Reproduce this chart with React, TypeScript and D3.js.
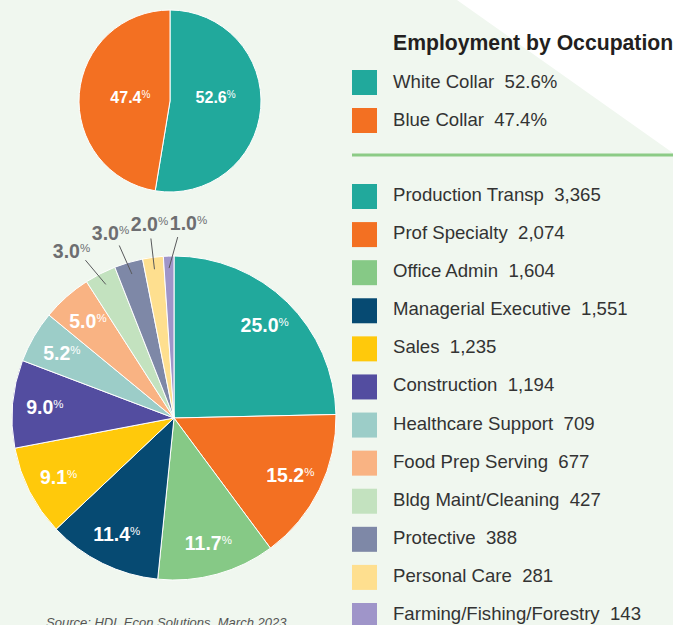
import React from "react";
import * as d3 from "d3";

// ---------- data ----------
const topCategories = ["White Collar", "Blue Collar"];
const topValues = [52.6, 47.4];
const topLabels = ["52.6", "47.4"];
const topColors = ["#21a99c", "#f37022"];

const occCategories = [
  "Production Transp",
  "Prof Specialty",
  "Office Admin",
  "Managerial Executive",
  "Sales",
  "Construction",
  "Healthcare Support",
  "Food Prep Serving",
  "Bldg Maint/Cleaning",
  "Protective",
  "Personal Care",
  "Farming/Fishing/Forestry",
];
const occValues = [3365, 2074, 1604, 1551, 1235, 1194, 709, 677, 427, 388, 281, 143];
const occLabels = ["25.0", "15.2", "11.7", "11.4", "9.1", "9.0", "5.2", "5.0", "3.0", "3.0", "2.0", "1.0"];
const occColors = [
  "#21a99c",
  "#f37022",
  "#86c986",
  "#064a72",
  "#ffc90b",
  "#534da0",
  "#9ccdc8",
  "#f9b383",
  "#c3e2bf",
  "#7e88a7",
  "#fedf8f",
  "#9f95c9",
];

const titleText = "Employment by Occupation";
const sourceText = "Source: HDL Econ Solutions, March 2023";

const W = 673;
const H = 625;
const FONT = "'Liberation Sans', Arial, Helvetica, sans-serif";

export default function App() {
  // top pie
  const tcx = 170, tcy = 101, tR = 91;
  const topPie = d3.pie<number>().sort(null).value((d) => d)(topValues);
  const topArc = d3.arc<d3.PieArcDatum<number>>().innerRadius(0).outerRadius(tR);
  const topLabelArc = d3.arc<d3.PieArcDatum<number>>().innerRadius(tR * 0.47).outerRadius(tR * 0.47);

  // bottom pie
  const bcx = 174, bcy = 418, bR = 162;
  const occPie = d3.pie<number>().sort(null).value((d) => d)(occValues);
  const occArc = d3.arc<d3.PieArcDatum<number>>().innerRadius(0).outerRadius(bR);
  const inLabelArc = d3.arc<d3.PieArcDatum<number>>().innerRadius(bR * 0.8).outerRadius(bR * 0.8);
  const total = d3.sum(occValues);

  // outside labels: small slices
  const outside = occPie
    .map((d, i) => ({ d, i, mid: (d.startAngle + d.endAngle) / 2 }))
    .filter((o) => o.d.value / total < 0.04);
  const rL = 196;
  const xs = outside.map((o) => rL * Math.sin(o.mid));
  const gap = 39;
  for (let it = 0; it < 200; it++) {
    for (let k = 0; k < xs.length - 1; k++) {
      const diff = xs[k + 1] - xs[k];
      if (diff < gap) {
        const push = (gap - diff) / 2;
        xs[k] -= push;
        xs[k + 1] += push;
      }
    }
  }
  const outLabels = outside.map((o, k) => {
    const dx = xs[k];
    const dy = -Math.sqrt(Math.max(rL * rL - dx * dx, 0));
    const labAng = Math.atan2(dx, -dy);
    const a = o.mid;
    let la = labAng;
    if (a > Math.PI && la < Math.PI) la += 2 * Math.PI;
    const outAng = (a + la) / 2;
    const r1 = 150, r2 = 181;
    return {
      i: o.i,
      x: dx,
      y: dy,
      x1: r1 * Math.sin(a),
      y1: -r1 * Math.cos(a),
      x2: r2 * Math.sin(outAng),
      y2: -r2 * Math.cos(outAng),
    };
  });

  const fmt = d3.format(",");

  // legend layout
  const lx = 352, sw = 25, tx = 393;
  const topLegendY = d3.scaleLinear().domain([0, 1]).range([70, 108]);
  const occLegendY = d3.scaleLinear().domain([0, occCategories.length - 1]).range([184, 603]);

  return (
    <svg
      width={W}
      height={H}
      style={{ position: "absolute", left: 0, top: 0, display: "block" }}
      fontFamily={FONT}
    >
      <rect x={0} y={0} width={W} height={H} fill="#f0f7ef" />
      <polygon points={`457,0 ${W},0 ${W},153`} fill="#ffffff" />

      {/* top pie */}
      <g transform={`translate(${tcx},${tcy})`}>
        {topPie.map((d, i) => (
          <path key={i} d={topArc(d) || ""} fill={topColors[i]} stroke="#ffffff" strokeWidth={1} />
        ))}
        {topPie.map((d, i) => {
          const [x] = topLabelArc.centroid(d);
          return (
            <text key={i} x={x + 3} y={2} textAnchor="middle" fill="#ffffff" fontWeight="bold" fontSize={16}>
              {topLabels[i]}
              <tspan fontSize={10} fontWeight="normal" dy={-5}>%</tspan>
            </text>
          );
        })}
      </g>

      {/* bottom pie */}
      <g transform={`translate(${bcx},${bcy})`}>
        {occPie.map((d, i) => (
          <path key={i} d={occArc(d) || ""} fill={occColors[i]} stroke="#ffffff" strokeWidth={1} />
        ))}
        {occPie.map((d, i) => {
          if (d.value / total < 0.04) return null;
          const [x, y] = inLabelArc.centroid(d);
          return (
            <text key={i} x={x} y={y + 7} textAnchor="middle" fill="#ffffff" fontWeight="bold" fontSize={19.5}>
              {occLabels[i]}
              <tspan fontSize={11.5} fontWeight="normal" dy={-6}>%</tspan>
            </text>
          );
        })}
        {outLabels.map((o) => (
          <g key={o.i}>
            <line x1={o.x1} y1={o.y1} x2={o.x2} y2={o.y2} stroke="#58595b" strokeWidth={1} />
            <text x={o.x} y={o.y + 7} textAnchor="middle" fill="#6d6e71" fontWeight="bold" fontSize={19.5}>
              {occLabels[o.i]}
              <tspan fontSize={11.5} fontWeight="normal" dy={-6}>%</tspan>
            </text>
          </g>
        ))}
      </g>

      {/* legend */}
      <text x={tx} y={50} fontSize={21.2} fontWeight="bold" fill="#231f20">
        {titleText}
      </text>
      {topCategories.map((c, i) => (
        <g key={c}>
          <rect x={lx} y={topLegendY(i)} width={sw} height={sw} fill={topColors[i]} />
          <text x={tx} y={topLegendY(i) + 17.5} fontSize={18.6} fill="#333333" style={{ whiteSpace: "pre" }}>
            {`${c}  ${topValues[i].toFixed(1)}%`}
          </text>
        </g>
      ))}
      <line x1={lx} x2={W} y1={155} y2={155} stroke="#8ccb86" strokeWidth={3} />
      {occCategories.map((c, i) => (
        <g key={c}>
          <rect x={lx} y={occLegendY(i)} width={sw} height={sw} fill={occColors[i]} />
          <text x={tx} y={occLegendY(i) + 17} fontSize={18.6} fill="#333333" style={{ whiteSpace: "pre" }}>
            {`${c}  ${fmt(occValues[i])}`}
          </text>
        </g>
      ))}

      <text x={46} y={627} fontSize={13} fontStyle="italic" fill="#555555">
        {sourceText}
      </text>
    </svg>
  );
}
